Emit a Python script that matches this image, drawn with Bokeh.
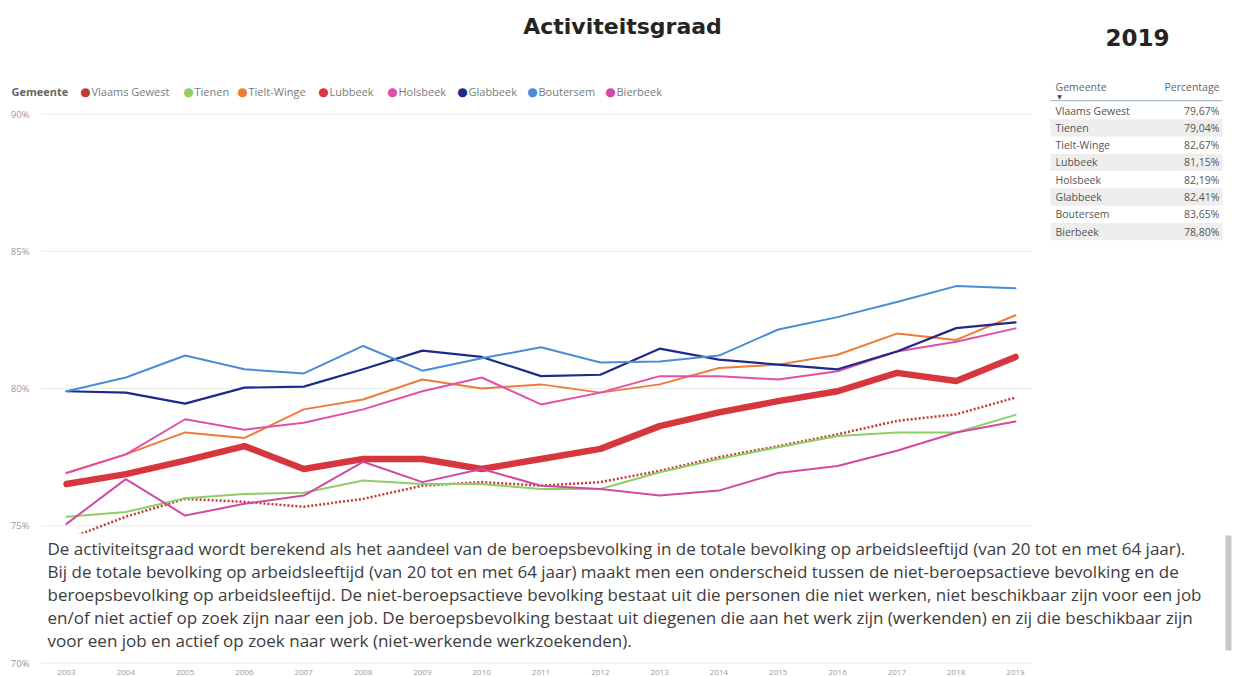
from bokeh.plotting import figure
from bokeh.models import Label, BoxAnnotation, FixedTicker, Range1d
from bokeh.embed import file_html
from bokeh.resources import INLINE

# ---------------- data ----------------
years = list(range(2003, 2020))
gemeenten = ["Vlaams Gewest", "Tienen", "Tielt-Winge", "Lubbeek",
             "Holsbeek", "Glabbeek", "Boutersem", "Bierbeek"]

vlaams_gewest = [74.50, 75.33, 75.98, 75.87, 75.69, 75.98, 76.46, 76.59, 76.46,
                 76.59, 77.00, 77.50, 77.90, 78.33, 78.82, 79.06, 79.67]
tienen = [75.33, 75.50, 76.00, 76.16, 76.20, 76.65, 76.52, 76.52, 76.34,
          76.34, 76.95, 77.43, 77.86, 78.27, 78.40, 78.40, 79.04]
tielt_winge = [76.92, 77.60, 78.40, 78.20, 79.24, 79.60, 80.33, 80.00, 80.15,
               79.85, 80.15, 80.75, 80.87, 81.23, 82.00, 81.77, 82.67]
lubbeek = [76.52, 76.88, 77.37, 77.90, 77.07, 77.43, 77.43, 77.07, 77.43,
           77.80, 78.63, 79.13, 79.54, 79.90, 80.57, 80.27, 81.15]
holsbeek = [76.92, 77.60, 78.88, 78.50, 78.75, 79.24, 79.90, 80.40, 79.42,
            79.85, 80.45, 80.45, 80.33, 80.63, 81.35, 81.70, 82.19]
glabbeek = [79.90, 79.85, 79.45, 80.03, 80.07, 80.70, 81.38, 81.15, 80.45,
            80.50, 81.45, 81.05, 80.87, 80.70, 81.35, 82.20, 82.41]
boutersem = [79.90, 80.40, 81.20, 80.70, 80.55, 81.55, 80.65, 81.10, 81.50,
             80.95, 80.98, 81.20, 82.15, 82.60, 83.15, 83.73, 83.65]
bierbeek = [75.07, 76.70, 75.37, 75.80, 76.10, 77.33, 76.59, 77.07, 76.46,
            76.34, 76.10, 76.28, 76.92, 77.18, 77.73, 78.40, 78.80]

series = [vlaams_gewest, tienen, tielt_winge, lubbeek,
          holsbeek, glabbeek, boutersem, bierbeek]

y_ticks = [70, 75, 80, 85, 90]
y_tick_labels = ["70%", "75%", "80%", "85%", "90%"]

title_text = "Activiteitsgraad"
year_text = "2019"
legend_title = "Gemeente"
table_headers = ["Gemeente", "Percentage"]

info_lines = [
    "De activiteitsgraad wordt berekend als het aandeel van de beroepsbevolking in de totale bevolking op arbeidsleeftijd (van 20 tot en met 64 jaar).",
    "Bij de totale bevolking op arbeidsleeftijd (van 20 tot en met 64 jaar) maakt men een onderscheid tussen de niet-beroepsactieve bevolking en de",
    "beroepsbevolking op arbeidsleeftijd. De niet-beroepsactieve bevolking bestaat uit die personen die niet werken, niet beschikbaar zijn voor een job",
    "en/of niet actief op zoek zijn naar een job. De beroepsbevolking bestaat uit diegenen die aan het werk zijn (werkenden) en zij die beschikbaar zijn",
    "voor een job en actief op zoek naar werk (niet-werkende werkzoekenden).",
]

# ---------------- styles ----------------
colors = ["#C23A36", "#8DCF66", "#EE7C38", "#D8363F",
          "#E24FA8", "#1D2A8A", "#4A8CD5", "#D04AA2"]
widths = [2.5, 2, 2, 6.5, 2, 2.2, 2, 2]
dashes = ["2 2", "solid", "solid", "solid", "solid", "solid", "solid", "solid"]
caps = ["butt", "round", "round", "round", "round", "round", "round", "round"]

FONT = "Open Sans"
W, H = 1239, 677

# canvas geometry: the plot frame fills the whole canvas
X_FIRST_PX, YEAR_PX = 66.0, 59.3125     # pixel of first year, pixels per year
Y80_PX, PCT_PX = 388.0, 27.45           # pixel of 80 %, pixels per percent
x_start = years[0] - X_FIRST_PX / YEAR_PX
x_end = years[0] + (W - X_FIRST_PX) / YEAR_PX
y_start = 80 - (H - Y80_PX) / PCT_PX
y_end = 80 + Y80_PX / PCT_PX
grid_x0 = years[0] - (X_FIRST_PX - 40) / YEAR_PX     # chart area left (px 40)
grid_x1 = years[-1] + 17 / YEAR_PX                   # chart area right (px ~1032)


def lab(px, py, text, size=11, color="#666666", align="left", bold=False,
        font=FONT, baseline="middle"):
    return Label(x=px, y=H - py, x_units="screen", y_units="screen",
                 text=text, text_font=font, text_font_size=f"{size}px",
                 text_color=color, text_align=align, text_baseline=baseline,
                 text_font_style="bold" if bold else "normal")


def box(px0, px1, py0, py1, color):
    return BoxAnnotation(left=px0, right=px1, top=H - py0, bottom=H - py1,
                         left_units="screen", right_units="screen",
                         top_units="screen", bottom_units="screen",
                         fill_color=color, fill_alpha=1.0, line_color=None,
                         line_alpha=0)


p = figure(width=W, height=H,
           min_border_left=0, min_border_right=0,
           min_border_top=0, min_border_bottom=0,
           x_range=Range1d(x_start, x_end), y_range=Range1d(y_start, y_end),
           output_backend="svg", toolbar_location=None)
p.outline_line_color = None
p.background_fill_color = "white"
p.border_fill_color = "white"
p.xgrid.visible = False
p.ygrid.visible = False

# horizontal gridlines limited to the chart area
p.segment(x0=[grid_x0] * len(y_ticks), x1=[grid_x1] * len(y_ticks),
          y0=y_ticks, y1=y_ticks, line_color="#EAEAEA", line_width=1)

for name, vals, c, w, d, cap in zip(gemeenten, series, colors, widths, dashes, caps):
    p.line(years, vals, line_color=c, line_width=w, line_dash=d,
           line_cap=cap, line_join="round")

# axes drawn inside the canvas
p.xaxis.ticker = FixedTicker(ticks=years)
p.yaxis.ticker = FixedTicker(ticks=y_ticks)
p.yaxis.major_label_overrides = {t: l for t, l in zip(y_ticks, y_tick_labels)}
p.xaxis.fixed_location = y_ticks[0]
p.yaxis.fixed_location = grid_x0
for ax in (p.xaxis[0], p.yaxis[0]):
    ax.axis_line_color = None
    ax.major_tick_line_color = None
    ax.minor_tick_line_color = None
    ax.major_label_text_color = "#9a9a9a"
    ax.major_label_text_font = FONT
p.xaxis.major_label_text_font_size = "8px"
p.xaxis.major_label_standoff = 1
p.yaxis.major_label_text_font_size = "9.5px"
p.yaxis.major_label_standoff = 5

# title + year
p.add_layout(lab(622, 26, title_text, size=22, color="#252423", align="center",
                 bold=True, font="DejaVu Sans"))
p.add_layout(lab(1137, 37, year_text, size=23, color="#252423", align="center",
                 bold=True, font="DejaVu Sans"))

# legend
p.add_layout(lab(11, 91, legend_title, size=11, color="#666666", bold=True))
dot_x = [85, 188, 242, 323, 392, 462, 532, 610]
for name, c, dx in zip(gemeenten, colors, dot_x):
    p.add_layout(lab(dx, 91, "\u25CF", size=12, color=c, align="center",
                     font="DejaVu Sans"))
    p.add_layout(lab(dx + 6, 91, name, size=11, color="#7a7a7a"))

# table
TX0, TX1 = 1050, 1222
row_h = 17.3
row_c0 = 110
for i in range(len(gemeenten)):
    if i % 2 == 1:
        cy = row_c0 + i * row_h
        p.add_layout(box(TX0, TX1, cy - row_h / 2, cy + row_h / 2, "#EEEEEE"))
p.add_layout(box(TX0, TX1, 99.5, 100.8, "#A9C0CF"))
p.add_layout(lab(1055, 86, table_headers[0], size=10.5, color="#666666"))
p.add_layout(lab(1219, 86, table_headers[1], size=10.5, color="#666666", align="right"))
p.add_layout(lab(1059, 96, "\u25BC", size=6, color="#444444", align="center",
                 font="DejaVu Sans"))
for i, (name, vals) in enumerate(zip(gemeenten, series)):
    cy = row_c0 + i * row_h
    pct = f"{vals[-1]:.2f}".replace(".", ",") + "%"
    p.add_layout(lab(1055, cy, name, size=10.5, color="#555555"))
    p.add_layout(lab(1219, cy, pct, size=10.5, color="#555555", align="right"))

# info text box overlaying the chart
p.add_layout(box(40, 1215, 533, 652, "white"))
p.add_layout(box(1225, 1231, 535, 650, "#C8C8C8"))
for k, line in enumerate(info_lines):
    p.add_layout(lab(47, 548 + 23 * k, line, size=17, color="#3c3c3c"))

open("out.html", "w").write(file_html(p, INLINE))
